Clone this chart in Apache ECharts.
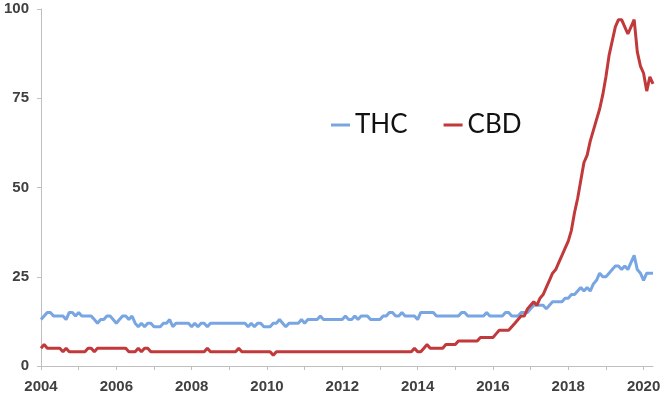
<!DOCTYPE html>
<html>
<head>
<meta charset="utf-8">
<script src="https://cdn.jsdelivr.net/npm/echarts@6/dist/echarts.min.js"></script>
<style>
  html, body { margin: 0; padding: 0; background: #fff; }
  #container { width: 670px; height: 399px; }
</style>
</head>
<body>
<div id="container"></div>
<script>
// monthly values, Jan 2004 .. Apr 2020
var seriesNames = ['THC', 'CBD'];
var firstYear = 2004;

var thcValues = [
    13, 14, 15, 15, 14, 14, 14, 14, 13, 15, 15, 14,   // 2004
    15, 14, 14, 14, 14, 13, 12, 13, 13, 14, 14, 13,   // 2005
    12, 13, 14, 14, 13, 14, 12, 11, 12, 11, 12, 12,   // 2006
    11, 11, 11, 12, 12, 13, 11, 12, 12, 12, 12, 12,   // 2007
    11, 12, 11, 12, 12, 11, 12, 12, 12, 12, 12, 12,   // 2008
    12, 12, 12, 12, 12, 12, 11, 12, 11, 12, 12, 11,   // 2009
    11, 11, 12, 12, 13, 12, 11, 12, 12, 12, 12, 13,   // 2010
    12, 13, 13, 13, 13, 14, 13, 13, 13, 13, 13, 13,   // 2011
    13, 14, 13, 13, 14, 13, 14, 14, 14, 13, 13, 13,   // 2012
    13, 14, 14, 15, 15, 14, 14, 15, 14, 14, 14, 14,   // 2013
    13, 15, 15, 15, 15, 15, 14, 14, 14, 14, 14, 14,   // 2014
    14, 14, 15, 15, 14, 14, 14, 14, 14, 14, 15, 14,   // 2015
    14, 14, 14, 14, 15, 15, 14, 14, 14, 15, 15, 15,   // 2016
    16, 17, 17, 17, 17, 16, 17, 18, 18, 18, 18, 19,   // 2017
    19, 20, 20, 21, 22, 21, 22, 21, 23, 24, 26, 25,   // 2018
    25, 26, 27, 28, 28, 27, 28, 27, 29, 31, 27, 26,   // 2019
    24, 26, 26, 26                                    // 2020
];

var cbdValues = [
    5, 6, 5, 5, 5, 5, 5, 4, 5, 4, 4, 4,               // 2004
    4, 4, 4, 5, 5, 4, 5, 5, 5, 5, 5, 5,               // 2005
    5, 5, 5, 5, 4, 4, 4, 5, 4, 5, 5, 4,               // 2006
    4, 4, 4, 4, 4, 4, 4, 4, 4, 4, 4, 4,               // 2007
    4, 4, 4, 4, 4, 5, 4, 4, 4, 4, 4, 4,               // 2008
    4, 4, 4, 5, 4, 4, 4, 4, 4, 4, 4, 4,               // 2009
    4, 4, 3, 4, 4, 4, 4, 4, 4, 4, 4, 4,               // 2010
    4, 4, 4, 4, 4, 4, 4, 4, 4, 4, 4, 4,               // 2011
    4, 4, 4, 4, 4, 4, 4, 4, 4, 4, 4, 4,               // 2012
    4, 4, 4, 4, 4, 4, 4, 4, 4, 4, 4, 5,               // 2013
    4, 4, 5, 6, 5, 5, 5, 5, 5, 6, 6, 6,               // 2014
    6, 7, 7, 7, 7, 7, 7, 7, 8, 8, 8, 8,               // 2015
    8, 9, 10, 10, 10, 10, 11, 12, 13, 14, 14, 16,     // 2016
    17, 18, 17, 19, 20, 22, 24, 26, 27, 29, 31, 33,   // 2017
    35, 38, 43, 47, 52, 57, 59, 63, 66, 69, 72, 76,   // 2018
    81, 87, 91, 95, 97, 97, 95, 93, 95, 97, 88, 84,   // 2019
    82, 77, 81, 79                                    // 2020
];

var yTicks = [0, 25, 50, 75, 100];

// month categories
var months = [];
for (var i = 0; i < thcValues.length; i++) {
    var y = firstYear + Math.floor(i / 12);
    var m = i % 12 + 1;
    months.push(y + '-' + (m < 10 ? '0' + m : m));
}

var axisColor = '#bfbfbf';
var labelStyle = {
    color: '#404040',
    fontFamily: 'Liberation Sans',
    fontSize: 15,
    fontWeight: 'bold'
};

var option = {
    animation: false,
    backgroundColor: '#fff',
    grid: { left: 41, right: 17, top: 9, bottom: 33, containLabel: false },
    legend: {
        data: seriesNames,
        left: 326,
        top: 107,
        icon: 'rect',
        itemWidth: 19,
        itemHeight: 3,
        itemGap: 36,
        textStyle: {
            color: '#111',
            fontFamily: 'Lato',
            fontSize: 26,
            lineHeight: 26
        }
    },
    xAxis: {
        type: 'category',
        data: months,
        boundaryGap: false,
        axisLine: { lineStyle: { color: axisColor, width: 1 } },
        axisTick: {
            length: 4,
            lineStyle: { color: axisColor },
            interval: function (index) { return index % 12 === 0; }
        },
        axisLabel: Object.assign({
            margin: 13,
            interval: function (index) { return index % 24 === 0; },
            formatter: function (value) { return value.slice(0, 4); }
        }, labelStyle),
        splitLine: { show: false }
    },
    yAxis: {
        type: 'value',
        min: yTicks[0],
        max: yTicks[yTicks.length - 1],
        interval: 25,
        axisLine: { show: true, lineStyle: { color: axisColor, width: 1 } },
        axisTick: { show: true, length: 4, lineStyle: { color: axisColor } },
        axisLabel: Object.assign({ margin: 12 }, labelStyle),
        splitLine: { show: false }
    },
    series: [{
        name: seriesNames[0],
        type: 'line',
        data: thcValues,
        showSymbol: false,
        itemStyle: { color: '#78a6e2' },
        lineStyle: { color: '#78a6e2', width: 3 }
    }, {
        name: seriesNames[1],
        type: 'line',
        data: cbdValues,
        showSymbol: false,
        itemStyle: { color: '#c1393a' },
        lineStyle: { color: '#c1393a', width: 3 }
    }]
};

function draw() {
    var myChart = echarts.init(document.getElementById('container'));
    myChart.setOption(option);
}

window.addEventListener("load", draw, false);
</script>
</body>
</html>
